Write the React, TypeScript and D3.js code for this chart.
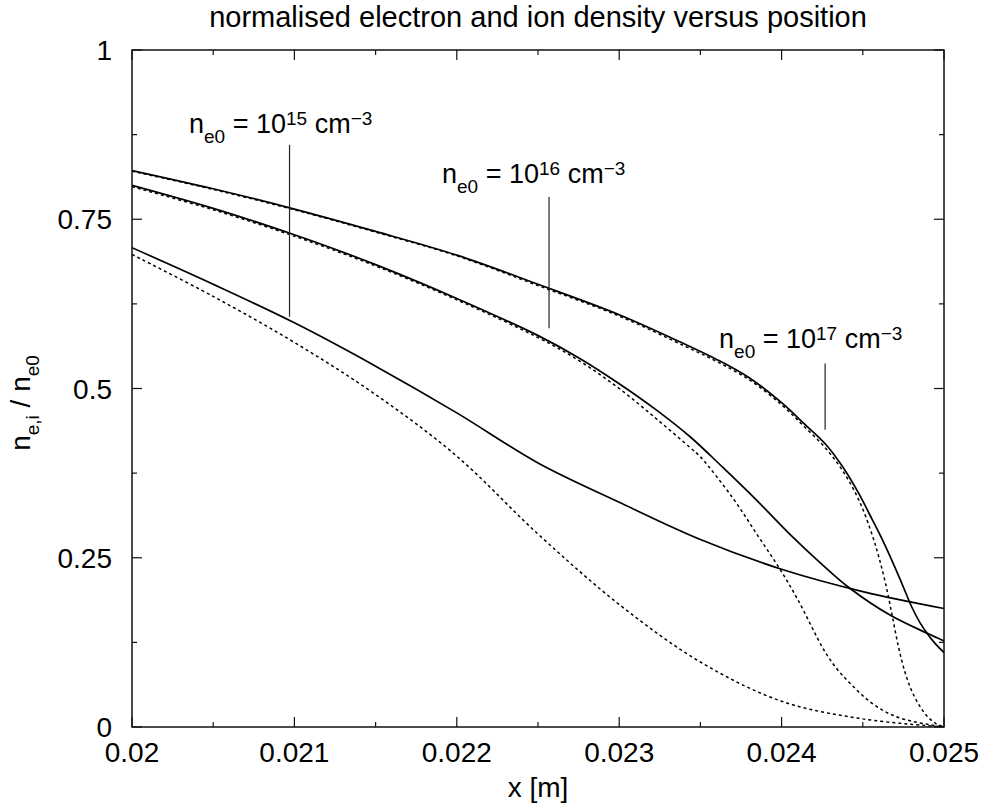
import React from "react";
import * as d3 from "d3";

// ---- data ----
const xTicks = [0.02, 0.021, 0.022, 0.023, 0.024, 0.025];
const xTickLabels = ["0.02", "0.021", "0.022", "0.023", "0.024", "0.025"];
const xMinor = [0.0205, 0.0215, 0.0225, 0.0235, 0.0245];
const yTicks = [0, 0.25, 0.5, 0.75, 1];
const yTickLabels = ["0", "0.25", "0.5", "0.75", "1"];
const yMinor = [0.125, 0.375, 0.625, 0.875];

// n_e0 = 1e17, electrons (solid)
const x17e = [0.02, 0.0205, 0.021, 0.0215, 0.022, 0.0225, 0.023, 0.0234, 0.0236, 0.0238, 0.024, 0.02413, 0.02427, 0.02438, 0.02448, 0.02454, 0.02461, 0.02467, 0.02473, 0.02477, 0.0248, 0.02485, 0.0249, 0.02495, 0.025];
const y17e = [0.822, 0.795, 0.765, 0.732, 0.697, 0.654, 0.609, 0.566, 0.543, 0.516, 0.479, 0.45, 0.418, 0.383, 0.343, 0.315, 0.282, 0.251, 0.218, 0.195, 0.178, 0.155, 0.137, 0.122, 0.11];
// n_e0 = 1e17, ions (dotted)
const x17i = [0.02, 0.0205, 0.021, 0.0215, 0.022, 0.0225, 0.023, 0.0234, 0.0236, 0.0238, 0.024, 0.02413, 0.02427, 0.02438, 0.02448, 0.02456, 0.0246, 0.02464, 0.02468, 0.02472, 0.02476, 0.0248, 0.02485, 0.0249, 0.02495, 0.025];
const y17i = [0.821, 0.794, 0.764, 0.731, 0.696, 0.652, 0.607, 0.563, 0.54, 0.513, 0.476, 0.446, 0.412, 0.377, 0.333, 0.282, 0.25, 0.212, 0.166, 0.118, 0.081, 0.054, 0.031, 0.015, 0.005, 0.0];

// n_e0 = 1e16, electrons (solid)
const x16e = [0.02, 0.0205, 0.021, 0.0215, 0.022, 0.02251, 0.02276, 0.023, 0.02323, 0.02344, 0.02364, 0.02385, 0.02405, 0.02425, 0.02442, 0.02467, 0.0249, 0.025];
const y16e = [0.8, 0.766, 0.727, 0.683, 0.633, 0.577, 0.544, 0.507, 0.468, 0.428, 0.383, 0.334, 0.285, 0.24, 0.205, 0.165, 0.138, 0.127];
// n_e0 = 1e16, ions (dotted)
const x16i = [0.02, 0.0205, 0.021, 0.0215, 0.022, 0.02251, 0.02276, 0.023, 0.02323, 0.02344, 0.0235, 0.0237, 0.02385, 0.02399, 0.0241, 0.02426, 0.02434, 0.02442, 0.02452, 0.02462, 0.02472, 0.02483, 0.02492, 0.025];
const y16i = [0.798, 0.764, 0.725, 0.681, 0.631, 0.574, 0.54, 0.5, 0.455, 0.412, 0.399, 0.338, 0.284, 0.233, 0.188, 0.114, 0.086, 0.065, 0.042, 0.025, 0.014, 0.007, 0.003, 0.0];

// n_e0 = 1e15, electrons (solid)
const x15e = [0.02, 0.0205, 0.021, 0.0215, 0.022, 0.0225, 0.023, 0.0235, 0.024, 0.0245, 0.025];
const y15e = [0.708, 0.654, 0.597, 0.533, 0.464, 0.39, 0.332, 0.277, 0.233, 0.2, 0.175];
// n_e0 = 1e15, ions (dotted)
const x15i = [0.02, 0.0205, 0.021, 0.0215, 0.022, 0.0225, 0.023, 0.0235, 0.024, 0.0245, 0.025];
const y15i = [0.698, 0.636, 0.568, 0.491, 0.4, 0.285, 0.181, 0.096, 0.038, 0.012, 0.0];

// annotation pointer lines [x, yTop, yBottom] and label anchors
const annoExp = ["15", "16", "17"];
const annoX = [0.02097, 0.022568, 0.024268];
const annoYTop = [0.86, 0.783, 0.537];
const annoYBot = [0.606, 0.589, 0.439];
const annoLabelX = [0.020351, 0.021909, 0.023615];
const annoLabelY = [0.877, 0.804, 0.56];

const W = 986;
const H = 809;
const L = 132, R = 944, T = 50, B = 727;
const FONT = "'Liberation Sans', Arial, Helvetica, sans-serif";

export default function App() {
  const x = d3.scaleLinear().domain([0.02, 0.025]).range([L, R]);
  const y = d3.scaleLinear().domain([0, 1]).range([B, T]);
  const line = d3
    .line<[number, number]>()
    .x((d) => x(d[0]))
    .y((d) => y(d[1]))
    .curve(d3.curveCatmullRom.alpha(0.5));
  const zip = (xs: number[], ys: number[]) => xs.map((v, i) => [v, ys[i]] as [number, number]);

  const series = [
    { xs: x15e, ys: y15e, dash: null },
    { xs: x15i, ys: y15i, dash: "3,3" },
    { xs: x16e, ys: y16e, dash: null },
    { xs: x16i, ys: y16i, dash: "3,3" },
    { xs: x17e, ys: y17e, dash: null },
    { xs: x17i, ys: y17i, dash: "3,3" },
  ];

  const major = 10, minor = 5;
  const tickStroke = "#111";

  return (
    <svg
      width={W}
      height={H}
      viewBox={`0 0 ${W} ${H}`}
      style={{ position: "absolute", left: 0, top: 0, background: "#fff" }}
      fontFamily={FONT}
    >
      <rect x={0} y={0} width={W} height={H} fill="#fff" />
      <defs>
        <clipPath id="plot">
          <rect x={L} y={T} width={R - L} height={B - T} />
        </clipPath>
      </defs>

      {/* title */}
      <text x={(L + R) / 2} y={27} textAnchor="middle" fontSize={29} fill="#000">
        normalised electron and ion density versus position
      </text>

      {/* ticks */}
      <g stroke={tickStroke} strokeWidth={1.2}>
        {xTicks.map((t, i) => (
          <g key={"xt" + i}>
            <line x1={x(t)} x2={x(t)} y1={B} y2={B - major} />
            <line x1={x(t)} x2={x(t)} y1={T} y2={T + major} />
          </g>
        ))}
        {xMinor.map((t, i) => (
          <g key={"xm" + i}>
            <line x1={x(t)} x2={x(t)} y1={B} y2={B - minor} />
            <line x1={x(t)} x2={x(t)} y1={T} y2={T + minor} />
          </g>
        ))}
        {yTicks.map((t, i) => (
          <g key={"yt" + i}>
            <line x1={L} x2={L + major} y1={y(t)} y2={y(t)} />
            <line x1={R} x2={R - major} y1={y(t)} y2={y(t)} />
          </g>
        ))}
        {yMinor.map((t, i) => (
          <g key={"ym" + i}>
            <line x1={L} x2={L + minor} y1={y(t)} y2={y(t)} />
            <line x1={R} x2={R - minor} y1={y(t)} y2={y(t)} />
          </g>
        ))}
      </g>

      {/* tick labels */}
      {xTicks.map((t, i) => (
        <text key={"xl" + i} x={x(t)} y={B + 35} textAnchor="middle" fontSize={28} fill="#000">
          {xTickLabels[i]}
        </text>
      ))}
      {yTicks.map((t, i) => (
        <text key={"yl" + i} x={L - 20} y={y(t) + 10} textAnchor="end" fontSize={28} fill="#000">
          {yTickLabels[i]}
        </text>
      ))}

      {/* axis labels */}
      <text x={(L + R) / 2} y={797} textAnchor="middle" fontSize={28} fill="#000">
        x [m]
      </text>
      <text transform={`translate(29.5,${(L + R) / 2 - 135}) rotate(-90)`} textAnchor="middle" fontSize={28} fill="#000">
        n<tspan fontSize={19} dy={9}>e,i</tspan>
        <tspan dy={-9}> / n</tspan>
        <tspan fontSize={19} dy={9}>e0</tspan>
      </text>

      {/* curves */}
      <g clipPath="url(#plot)" fill="none" stroke="#000">
        {series.map((s, i) => (
          <path
            key={"s" + i}
            d={line(zip(s.xs, s.ys)) || ""}
            strokeWidth={s.dash ? 1.5 : 1.7}
            strokeDasharray={s.dash || undefined}
          />
        ))}
      </g>

      {/* annotations */}
      {annoX.map((ax, i) => (
        <g key={"an" + i}>
          <line x1={x(ax)} x2={x(ax)} y1={y(annoYTop[i])} y2={y(annoYBot[i])} stroke="#222" strokeWidth={1.2} />
          <text x={x(annoLabelX[i])} y={y(annoLabelY[i])} fontSize={27} fill="#000">
            n<tspan fontSize={19} dy={10}>e0</tspan>
            <tspan dy={-10}>{" = 10"}</tspan>
            <tspan fontSize={19} dy={-8}>{annoExp[i]}</tspan>
            <tspan dy={8}>{" cm"}</tspan>
            <tspan fontSize={19} dy={-8}>{"\u22123"}</tspan>
          </text>
        </g>
      ))}

      {/* frame */}
      <rect x={L} y={T} width={R - L} height={B - T} fill="none" stroke="#111" strokeWidth={1.5} />
    </svg>
  );
}
